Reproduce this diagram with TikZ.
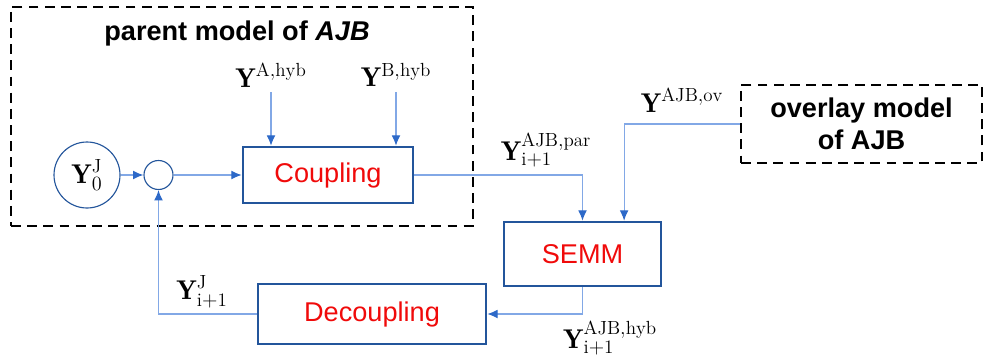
\documentclass[tikz,border=0pt]{standalone}
\usepackage{fontspec}
\setsansfont{Liberation Sans}
\usepackage{xcolor}
\usepackage{tikz}
\usetikzlibrary{arrows.meta,positioning}

\definecolor{linkblue}{RGB}{130,168,230}
\definecolor{tipblue}{RGB}{45,105,200}
\definecolor{boxblue}{RGB}{35,85,155}
\definecolor{textred}{RGB}{240,10,10}

\begin{document}
\begin{tikzpicture}[
    font=\fontsize{19.3}{23}\selectfont,
    blockbox/.style={draw=boxblue, line width=1.8pt, align=center, font=\fontsize{19.3}{23}\selectfont\sffamily, text=textred},
    modelbox/.style={draw, dashed, line width=2pt, dash pattern=on 7pt off 4.5pt, align=center, font=\fontsize{19.3}{23}\selectfont\sffamily\bfseries},
    signal/.style={draw=boxblue, circle, line width=0.8pt, inner sep=0pt},
    arrow/.style={-{Latex[length=2.6mm,width=2.2mm,color=tipblue]}, draw=linkblue, line width=0.8pt},
    link/.style={draw=linkblue, line width=0.8pt}
  ]
    \useasboundingbox (0,0) rectangle (24.775,9.025);

    % model boundaries
    \node[modelbox, minimum width=11.55cm, minimum height=5.475cm] (parent) at (6.05,6.1125) {};
    \node[font=\fontsize{19.3}{23}\selectfont\sffamily\bfseries] (parenttitle) at (5.925,8.2) {parent model of \textit{AJB}};
    \node[modelbox, minimum width=6.025cm, minimum height=1.95cm] (overlay) at (21.5375,5.925) {overlay model\\of AJB};

    % blocks
    \node[signal, minimum size=1.65cm] (y0) at (2.175,4.65) {$\mathbf{Y}_0^{\mathrm{J}}$};
    \node[signal, minimum size=0.725cm] (sum) at (3.9625,4.65) {};
    \node[blockbox, minimum width=4.25cm, minimum height=1.4cm] (coupling) at (8.2,4.65) {Coupling};
    \node[blockbox, minimum width=3.925cm, minimum height=1.6cm] (semm) at (14.5625,2.675) {SEMM};
    \node[blockbox, minimum width=5.7cm, minimum height=1.5cm] (decoupling) at (9.3,1.175) {Decoupling};

    % signal labels
    \node (yahyb) at (6.775,7.15) {$\mathbf{Y}^{\mathrm{A,hyb}}$};
    \node (ybhyb) at (9.9,7.15) {$\mathbf{Y}^{\mathrm{B,hyb}}$};
    \node (ypar) at (13.65,5.275) {$\mathbf{Y}_{\mathrm{i+1}}^{\mathrm{AJB,par}}$};
    \node (yov) at (17.05,6.525) {$\mathbf{Y}^{\mathrm{AJB,ov}}$};
    \node (yhyb) at (15.25,0.575) {$\mathbf{Y}_{\mathrm{i+1}}^{\mathrm{AJB,hyb}}$};
    \node (yj) at (5.05,1.725) {$\mathbf{Y}_{\mathrm{i+1}}^{\mathrm{J}}$};

    \coordinate (ovin) at ([xshift=1.04cm]semm.north);

    \draw[arrow] (yahyb.south) -- (yahyb.south |- coupling.north);
    \draw[arrow] (ybhyb.south) -- (ybhyb.south |- coupling.north);
    \draw[arrow] (y0.east) -- (sum.west);
    \draw[arrow] (sum.east) -- (coupling.west);
    \draw[arrow] (coupling.east) -| (semm.north);
    \draw[arrow] (overlay.west) -| (ovin);
    \draw[arrow] (semm.south) |- (decoupling.east);
    \draw[arrow] (decoupling.west) -| (sum.south);
  \end{tikzpicture}
\end{document}
